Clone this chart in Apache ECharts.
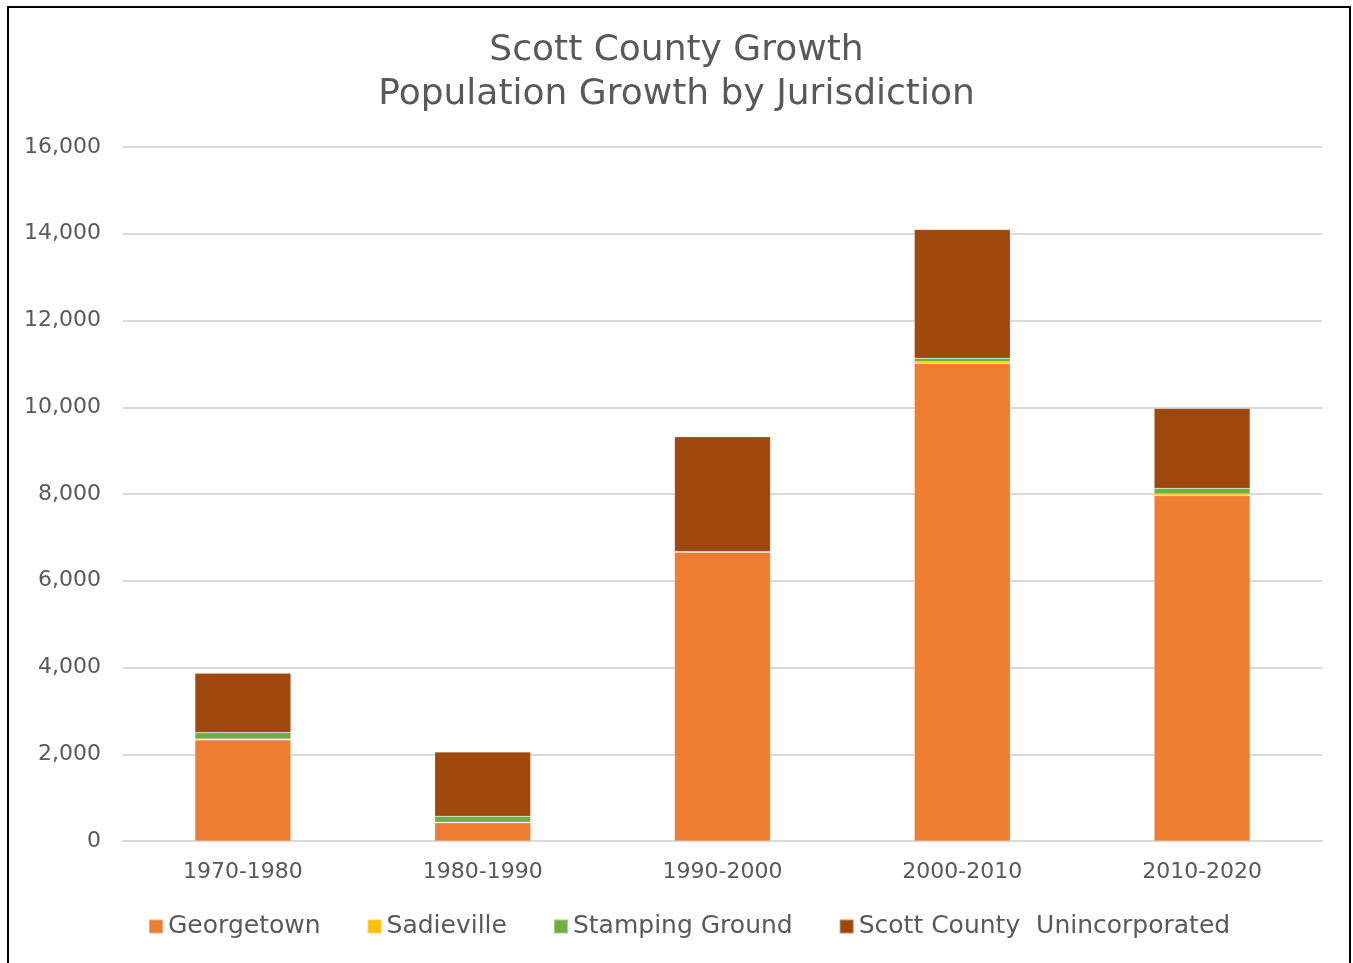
<!DOCTYPE html>
<html><head><meta charset="utf-8">
<script src="https://cdn.jsdelivr.net/npm/echarts@6/dist/echarts.min.js"></script>
<style>
html,body{margin:0;padding:0;background:#fff;}
#frame{position:absolute;left:7px;top:6px;width:1344px;height:960px;border:2px solid #000;box-sizing:border-box;}
#chart{position:absolute;left:0;top:0;width:1353px;height:963px;}
</style></head>
<body>
<div id="frame"></div>
<div id="chart"></div>
<script>
const categories = ['1970-1980','1980-1990','1990-2000','2000-2010','2010-2020'];
const georgetown = [2330, 420, 6655, 11010, 7960];
const sadieville = [20, 10, 20, 40, 40];
const stampingGround = [150, 140, -35, 78, 130];
const unincorporated = [1370, 1480, 2644, 2972, 1844];
const seriesNames = ['Georgetown','Sadieville','Stamping Ground','Scott County  Unincorporated'];
const colors = ['#ED7D31','#FFC000','#70AD47','#9E480E'];

const font = 'DejaVu Sans';
const chart = echarts.init(document.getElementById('chart'), null, {renderer:'canvas'});
const mk = (name, data, i) => ({
  name, type:'bar', stack:'total', data, barWidth:'40%',
  itemStyle:{color:colors[i], borderColor:'rgba(255,255,255,0.35)', borderWidth:0.5}
});
chart.setOption({
  animation:false,
  title:{
    text:'Scott County Growth\nPopulation Growth by Jurisdiction',
    left:'center', top:24,
    textStyle:{fontFamily:font, fontSize:36, fontWeight:'normal', color:'#595959', lineHeight:44}
  },
  legend:{
    bottom:19, left:143, itemWidth:14, itemHeight:14, itemGap:46,
    icon:'rect',
    textStyle:{fontFamily:font, fontSize:25, color:'#595959'},
    data:seriesNames
  },
  grid:{left:123, right:31, top:147, bottom:122},
  xAxis:{
    type:'category', data:categories,
    axisLine:{lineStyle:{color:'#d9d9d9', width:2}},
    axisTick:{show:false},
    axisLabel:{fontFamily:font, fontSize:22, color:'#595959', margin:20}
  },
  yAxis:{
    type:'value', min:0, max:16000, interval:2000,
    axisLine:{show:false}, axisTick:{show:false},
    splitLine:{lineStyle:{color:'#d9d9d9', width:2}},
    axisLabel:{fontFamily:font, fontSize:22, color:'#595959', margin:22,
      formatter:v=>v.toLocaleString('en-US')}
  },
  series:[
    mk(seriesNames[0], georgetown, 0),
    mk(seriesNames[1], sadieville, 1),
    mk(seriesNames[2], stampingGround, 2),
    mk(seriesNames[3], unincorporated, 3)
  ]
});
</script>
</body></html>
